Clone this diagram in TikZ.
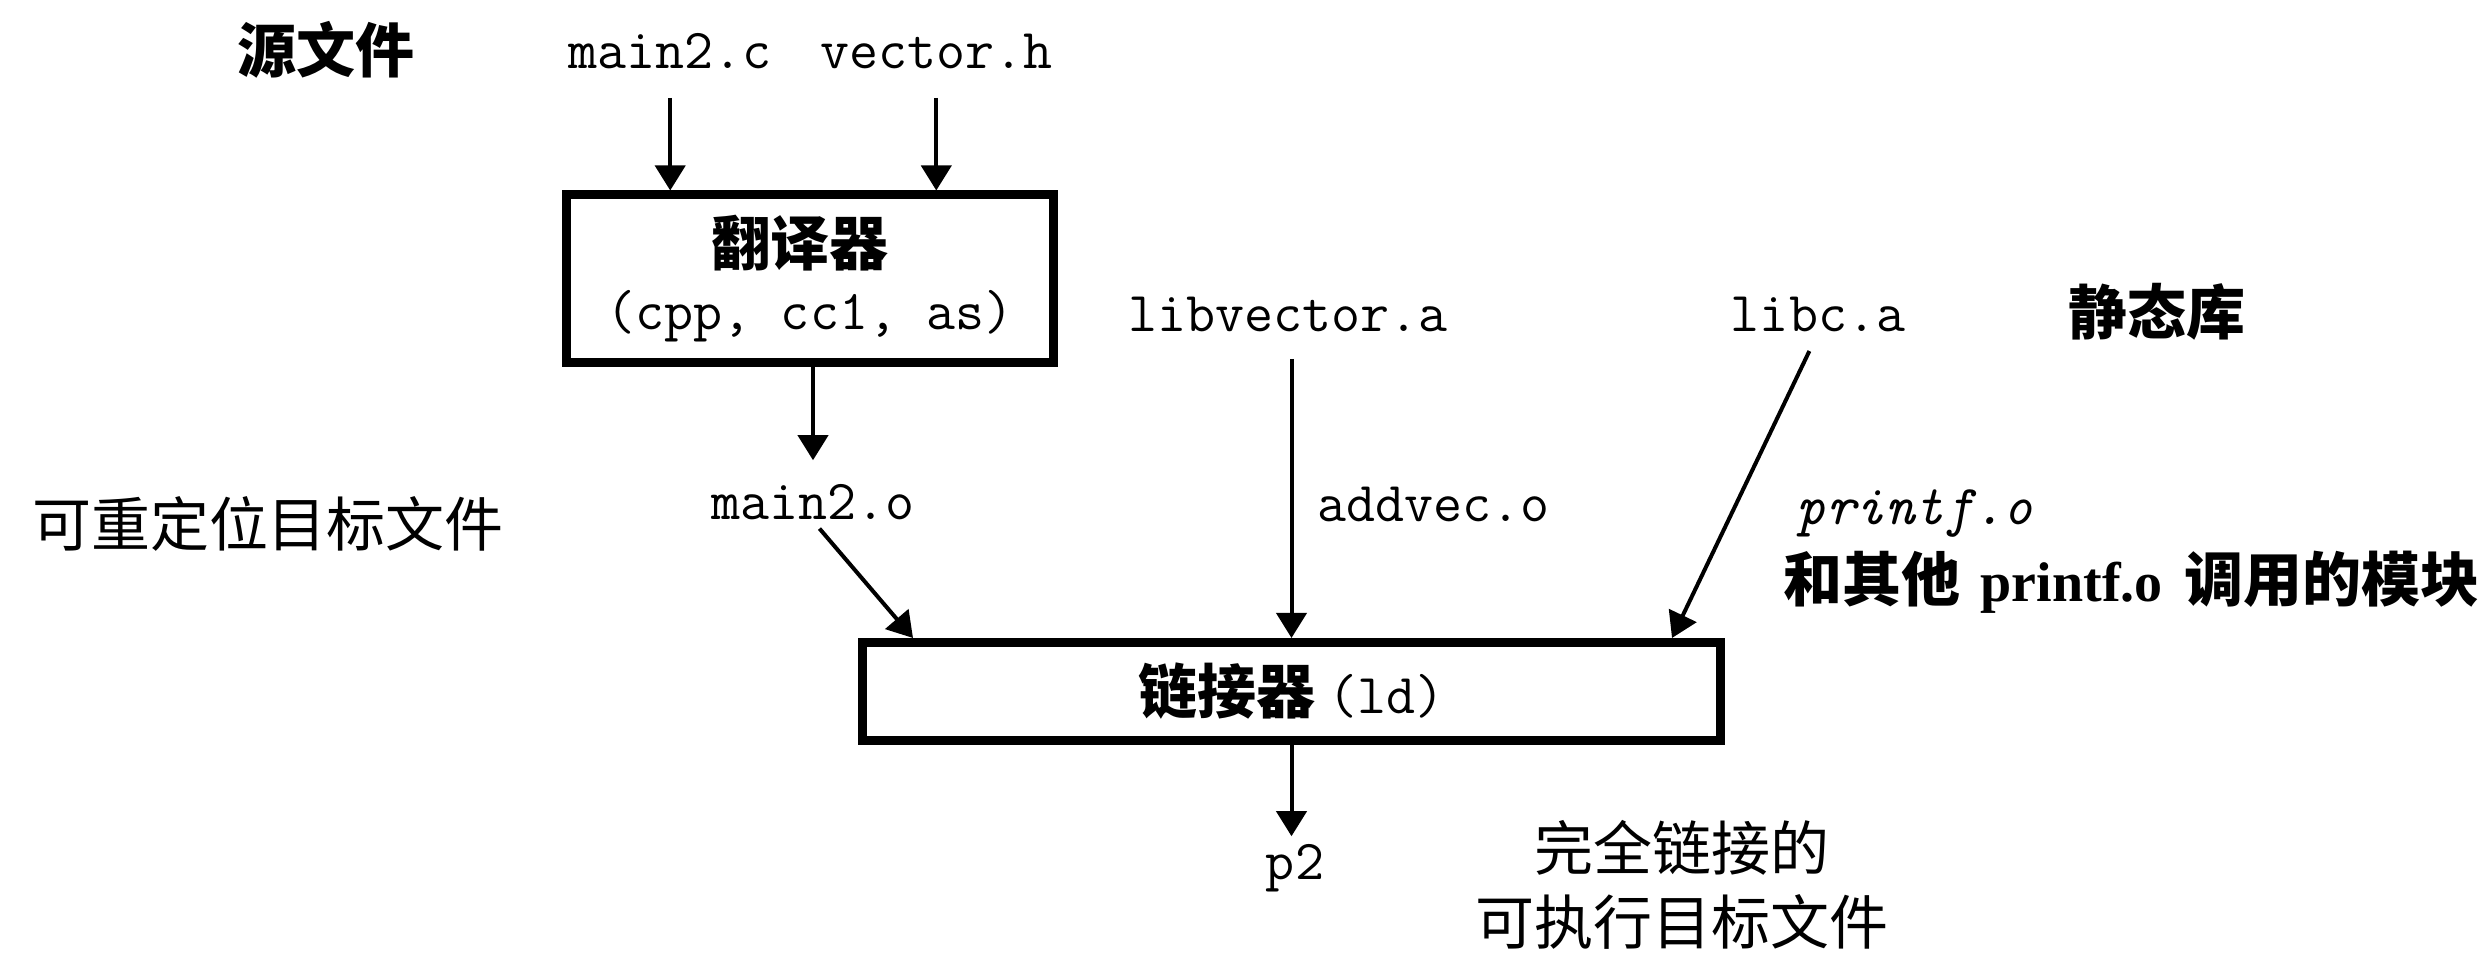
\documentclass[tikz,border=0pt]{standalone}
\usepackage{fontspec}
\newfontfamily\cjk{Noto Sans CJK SC}
\newfontfamily\tnr{Liberation Serif}
\usetikzlibrary{arrows.meta}
\begin{document}
\begin{tikzpicture}[x=0.3pt,y=-0.3pt,
  cjkt/.style={font=\cjk\fontsize{17.7pt}{22.2pt}\selectfont, inner sep=0pt},
  cjkb/.style={font=\cjk\bfseries\fontsize{17.7pt}{22.2pt}\selectfont, inner sep=0pt},
  mono/.style={font=\ttfamily\fontsize{16.9pt}{20pt}\selectfont, inner sep=0pt},
  boxstyle/.style={draw, line width=2.7pt, inner sep=0pt},
  arr/.style={line width=1.2pt, -{Triangle[width=9pt,length=7.5pt]}}]
\useasboundingbox (0,0) rectangle (2490,955);
% labels
\node[cjkb] (src) at (326,50) {源文件};
\node[cjkb] (stat) at (2157,312) {静态库};
\node[cjkt] (reloc) at (268,524) {可重定位目标文件};
\node[cjkt, align=center] (exe) at (1682,885) {完全链接的\\可执行目标文件};
% file names
\node[mono, anchor=base west] (mainc) at (568,69) {main2.c};
\node[mono, anchor=base east] (vech) at (1053,69) {vector.h};
\node[mono, anchor=base] (m2o) at (813,520) {main2.o};
\node[mono, anchor=base] (lv) at (1288,332) {libvector.a};
\node[mono, anchor=base] (lc) at (1818,332) {libc.a};
\node[mono, anchor=base west] (addv) at (1317,522) {addvec.o};
\node[mono, anchor=base west, font=\ttfamily\itshape\fontsize{16.9pt}{20pt}\selectfont] (pf) at (1796,525) {printf.o};
\node[cjkb, anchor=base west] (others) at (1783,602) {和其他\hspace{6pt}{\tnr\fontsize{16.8pt}{20pt}\selectfont printf.o}\hspace{6.5pt}调用的模块};
\node[mono, anchor=base] (p2) at (1295,880) {p2};
% boxes
\node[boxstyle, minimum width=146.1pt, minimum height=50.4pt] (b1) at (809.5,279) {};
\node[cjkb] (b1a) at (800,243) {翻译器};
\node[mono, anchor=base] (b1b) at (810,330) {(cpp, cc1, as)};
\node[boxstyle, cjkb, minimum width=257.4pt, minimum height=29.4pt] (ld) at (1291.5,691.5) {链接器 {\ttfamily\mdseries\fontsize{16.9pt}{20pt}\selectfont(ld)}};
% connectors
\draw[arr, shorten <=8.4pt] (mainc.south) -- (mainc.south |- b1.north);
\draw[arr, shorten <=8.4pt] (vech.south) -- (vech.south |- b1.north);
\draw[arr, shorten >=7.2pt] (b1.south -| m2o) -- (m2o.north);
\draw[arr, shorten <=3pt] (m2o.south) -- ([xshift=16.5pt]ld.north west);
\draw[arr, shorten <=7.8pt] (ld.north |- lv.south) -- (ld.north);
\draw[arr, shorten <=6pt] (lc.south) -- ([xshift=-15.9pt]ld.north east);
\draw[arr, shorten >=2.4pt] (ld.south) -- (ld.south |- p2.north);
\end{tikzpicture}
\end{document}
